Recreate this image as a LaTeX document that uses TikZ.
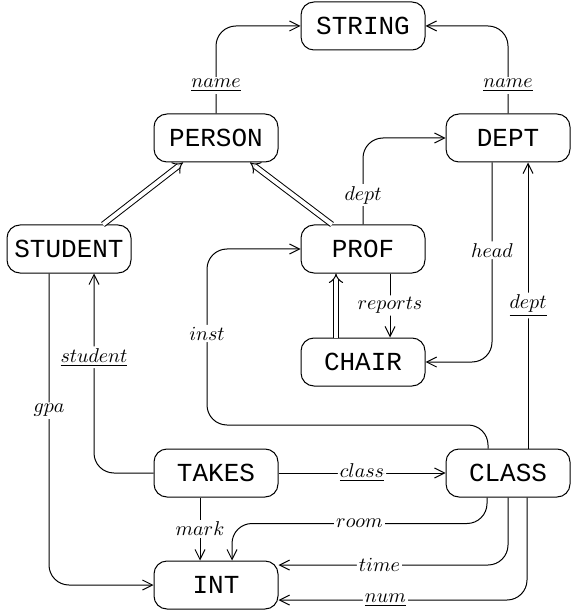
\documentclass[tikz,border=0pt]{standalone}
\usepackage{fontspec}
\newfontfamily\courier{Liberation Mono}
\usetikzlibrary{arrows.meta}
\begin{document}
\begin{tikzpicture}[x=0.5pt,y=-0.5pt,line width=0.5pt,
	cls/.style={draw,rounded corners=6.5pt,minimum width=62pt,minimum height=24pt,font=\courier\fontsize{13}{15}\selectfont},
	arr/.style={-{Straight Barb[length=5pt,width=5pt]},rounded corners=10pt},
	isa/.style={double,double distance=2pt,-{Implies}},
	lbl/.style={fill=white,inner sep=1pt}]
	\useasboundingbox (0,0) rectangle (570,614);
	% classes
	\node[cls] (STRING) at (363,26) {STRING};
	\node[cls] (PERSON) at (216,138) {PERSON};
	\node[cls] (DEPT) at (508,138) {DEPT};
	\node[cls] (STUDENT) at (69,249) {STUDENT};
	\node[cls] (PROF) at (363,249) {PROF};
	\node[cls] (CHAIR) at (363,362) {CHAIR};
	\node[cls] (TAKES) at (216,473) {TAKES};
	\node[cls] (CLASS) at (508,473) {CLASS};
	\node[cls] (INT) at (216,585) {INT};
	% isa links
	\draw[isa] ([xshift=17pt]STUDENT.north) -- ([xshift=-16.5pt]PERSON.south);
	\draw[isa] ([xshift=-15.5pt]PROF.north) -- ([xshift=17pt]PERSON.south);
	\draw[isa] ([xshift=-13.5pt]CHAIR.north) -- ([xshift=-13.5pt]PROF.south);
	% attributes
	\draw[arr] (PERSON.north) |- (STRING.west) node[lbl,pos=0.16]{$\underline{name}$};
	\draw[arr] (DEPT.north) |- (STRING.east) node[lbl,pos=0.16]{$\underline{name}$};
	\draw[arr] (PROF.north) |- (DEPT.west) node[lbl,pos=0.17]{$dept$};
	\draw[arr] ([xshift=-8pt]DEPT.south) |- (CHAIR.east) node[lbl,pos=0.22]{$head$};
	\draw[arr] ([xshift=10pt]CLASS.north) -- ([xshift=10pt]DEPT.south) node[lbl,midway]{$\underline{dept}$};
	\draw[arr] ([xshift=13.5pt]PROF.south) -- ([xshift=13.5pt]CHAIR.north) node[lbl,midway]{$reports$};
	\coordinate (instbend) at (207,425);
	\draw[arr] ([xshift=-10pt]CLASS.north) |- (instbend) |- (PROF.west) node[lbl,pos=0.26]{$inst$};
	\draw[arr] (TAKES.west) -| ([xshift=12.5pt]STUDENT.south) node[lbl,pos=0.79]{$\underline{student}$};
	\draw[arr] ([xshift=-10pt]STUDENT.south) |- (INT.west) node[lbl,pos=0.22]{$gpa$};
	\draw[arr] (TAKES) -- (CLASS) node[lbl,midway]{$\underline{class}$};
	\draw[arr] ([xshift=-8pt]TAKES.south) -- ([xshift=-8pt]INT.north) node[lbl,midway]{$mark$};
	\draw[arr] ([xshift=-10.5pt]CLASS.south) -- ++(0,26) -| ([xshift=8pt]INT.north) node[lbl,pos=0.25]{$room$};
	\draw[arr] (CLASS.south) |- ([yshift=10pt]INT.east) node[lbl,pos=0.78]{$time$};
	\draw[arr] ([xshift=9.5pt]CLASS.south) |- ([yshift=-7.5pt]INT.east) node[lbl,pos=0.785]{$\underline{num}$};
\end{tikzpicture}
\end{document}
